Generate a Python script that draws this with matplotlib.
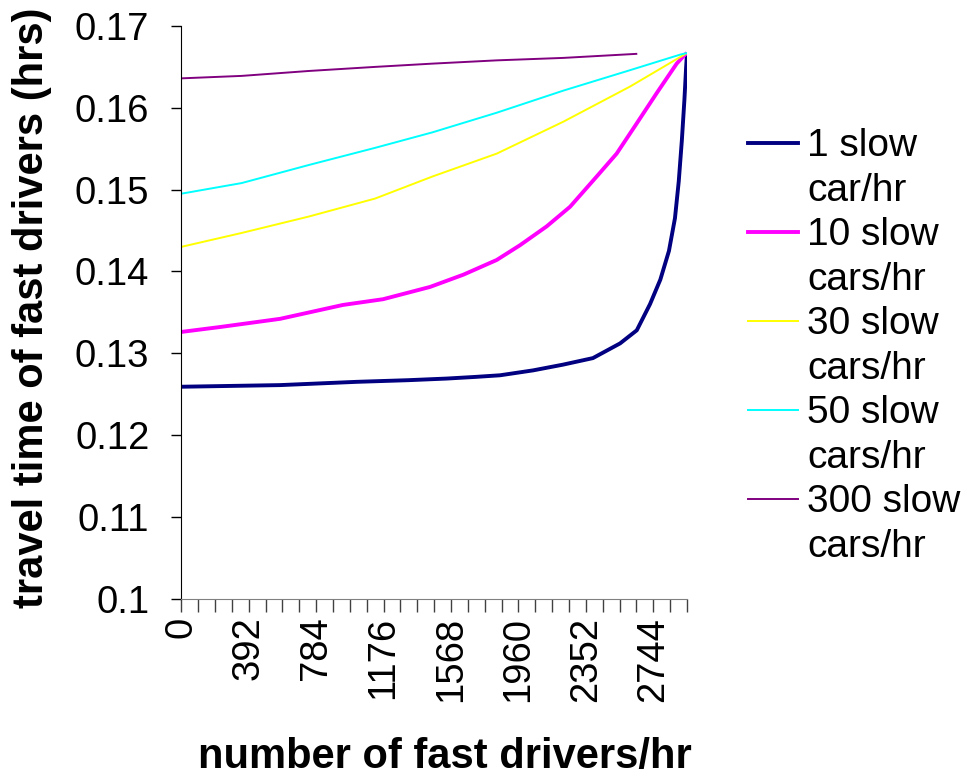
import matplotlib
matplotlib.use('Agg')
import matplotlib.pyplot as plt
from matplotlib.lines import Line2D
from matplotlib.ticker import MultipleLocator, FormatStrFormatter

plt.rcParams['font.family'] = ['Liberation Sans', 'DejaVu Sans']

# travel time (hrs) vs number of fast drivers/hr, one series per slow-car rate
x_1 = [0, 574, 1020, 1318, 1543, 1708, 1853, 2045, 2219, 2393, 2551, 2648,
       2725, 2785, 2835, 2870, 2892, 2910, 2925, 2935, 2940]
y_1 = [0.1259, 0.1261, 0.1265, 0.1267, 0.1269, 0.1271, 0.1273, 0.1279, 0.1286,
       0.1294, 0.1312, 0.1328, 0.1360, 0.1390, 0.1425, 0.1465, 0.1510, 0.1560,
       0.1610, 0.1650, 0.1667]

x_10 = [0, 225, 574, 940, 1173, 1446, 1640, 1834, 1969, 2124, 2260, 2415,
        2531, 2648, 2764, 2880, 2928, 2940]
y_10 = [0.1326, 0.1332, 0.1342, 0.1359, 0.1366, 0.1381, 0.1396, 0.1414, 0.1432,
        0.1455, 0.1479, 0.1516, 0.1544, 0.1581, 0.1618, 0.1654, 0.1665, 0.1667]

x_30 = [0, 351, 740, 1126, 1460, 1834, 2221, 2609, 2900, 2940]
y_30 = [0.1430, 0.1447, 0.1467, 0.1489, 0.1516, 0.1544, 0.1583, 0.1626, 0.1662, 0.1667]

x_50 = [0, 351, 740, 1126, 1460, 1834, 2221, 2609, 2900, 2940]
y_50 = [0.1495, 0.1508, 0.1530, 0.1551, 0.1570, 0.1594, 0.1621, 0.1646, 0.1665, 0.1667]

x_300 = [0, 351, 740, 1126, 1460, 1834, 2221, 2651]
y_300 = [0.1636, 0.1639, 0.1645, 0.1650, 0.1654, 0.1658, 0.1661, 0.1666]

labels = [('1 slow', 'car/hr'), ('10 slow', 'cars/hr'), ('30 slow', 'cars/hr'),
          ('50 slow', 'cars/hr'), ('300 slow', 'cars/hr')]
colors = ['#000080', '#ff00ff', '#ffff00', '#00ffff', '#800080']
widths = [2.8, 2.8, 1.4, 1.4, 1.4]

W, H = 967, 776
fig = plt.figure(figsize=(W / 100, H / 100), dpi=100)
ax = fig.add_axes([181.3 / W, 1 - 598.6 / H, (687 - 181.3) / W, (598.6 - 26) / H])

series = [(x_1, y_1), (x_10, y_10), (x_30, y_30), (x_50, y_50), (x_300, y_300)]
for (xs, ys), c, lw in zip(series, colors, widths):
    ax.plot(xs, ys, color=c, lw=lw, solid_capstyle='butt')

ax.set_xlim(0, 2940)
ax.set_ylim(0.1, 0.17)
ax.xaxis.set_major_locator(MultipleLocator(392))
ax.xaxis.set_minor_locator(MultipleLocator(98))
ax.yaxis.set_major_locator(MultipleLocator(0.01))
ax.yaxis.set_major_formatter(FormatStrFormatter('%g'))

for s in ['top', 'right']:
    ax.spines[s].set_visible(False)
ax.spines['bottom'].set_color('#808080')
ax.spines['left'].set_color('black')

ax.tick_params(axis='x', which='both', direction='out', length=9, width=1,
               color='#404040', labelsize=27.5, labelrotation=90, pad=4)
ax.tick_params(axis='y', direction='out', length=7, width=1, labelsize=27.5, pad=16)

fig.text(445 / W, 1 - 757 / H, 'number of fast drivers/hr', fontsize=30,
         fontweight='bold', ha='center', va='center')
fig.text(32 / W, 1 - 308 / H, 'travel time of fast drivers (hrs)', fontsize=30,
         fontweight='bold', ha='center', va='center', rotation=90)

# legend, two text lines per entry
for i, ((l1, l2), c, lw) in enumerate(zip(labels, colors, widths)):
    ly = 143 + i * 89
    fig.add_artist(Line2D([748 / W, 798 / W], [1 - ly / H, 1 - ly / H],
                          color=c, lw=lw, transform=fig.transFigure))
    fig.text(807 / W, 1 - (ly + 13) / H, l1, fontsize=28, ha='left', va='baseline')
    fig.text(807 / W, 1 - (ly + 58) / H, l2, fontsize=28, ha='left', va='baseline')

fig.savefig('out.png', dpi=100)
